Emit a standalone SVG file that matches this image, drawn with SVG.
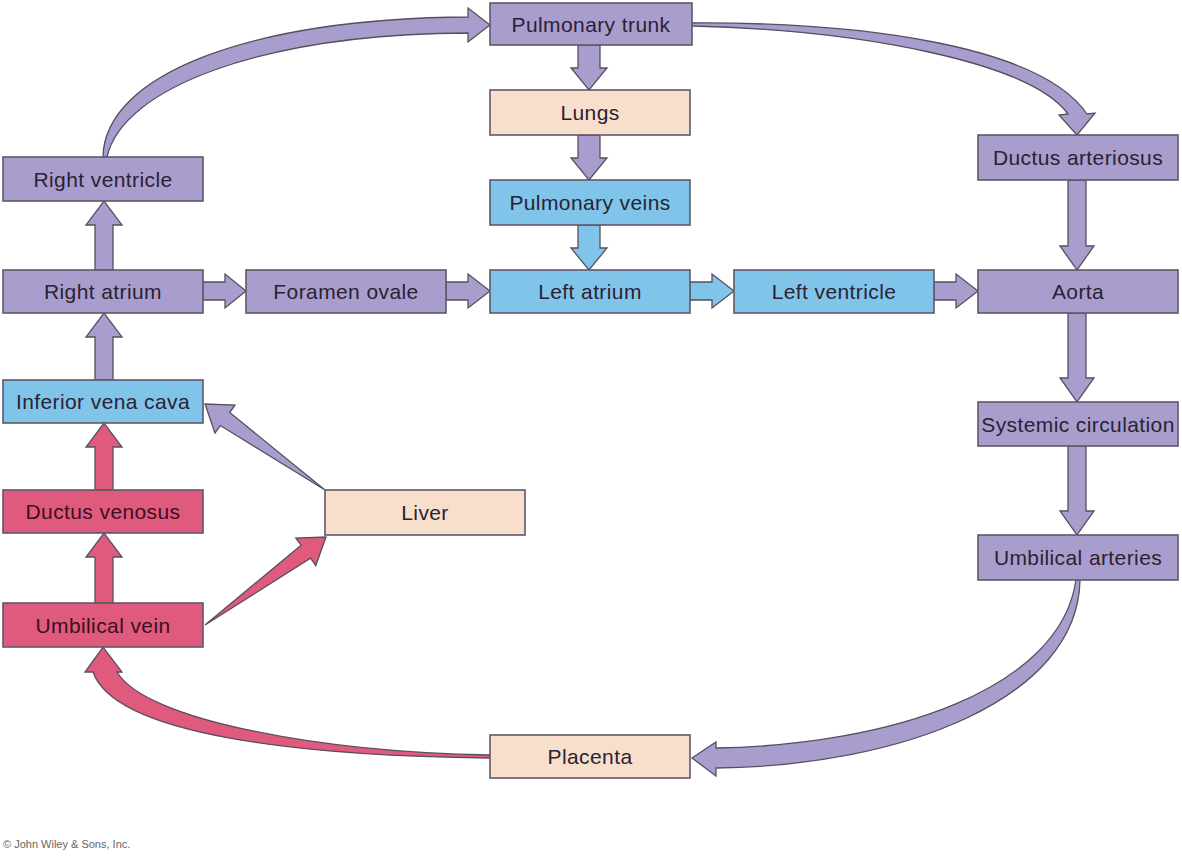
<svg xmlns="http://www.w3.org/2000/svg" width="1182" height="856" viewBox="0 0 1182 856">
<style>
.box{stroke:#5e5868;stroke-width:1.6}
.pu{fill:#a99dce}
.bl{fill:#80c4ea}
.pk{fill:#e05a7d}
.pe{fill:#f8dfcc}
.lbl{font-family:"Liberation Sans",Arial,sans-serif;font-size:21px;letter-spacing:0.4px;fill:#2a2233;text-anchor:middle;dominant-baseline:central}
.pkt{fill:#3a1020}
.ar{stroke:#55505f;stroke-width:1.3;stroke-linejoin:miter}
.apu{fill:#a99dce}
.abl{fill:#80c4ea}
.apk{fill:#e05a7d}
.copy{font-family:"Liberation Sans",Arial,sans-serif;font-size:11px;fill:#666}
</style>
<rect width="1182" height="856" fill="#ffffff"/>
<g id="connectors">
<!-- vertical down arrows centre column -->
<polygon class="ar apu" points="578,45 600,45 600,68 607,68 589,90 571,68 578,68"/>
<polygon class="ar apu" points="578,135 600,135 600,158 607,158 589,180 571,158 578,158"/>
<polygon class="ar abl" points="578,225 600,225 600,248 607,248 589,270 571,248 578,248"/>
<!-- right column down arrows -->
<polygon class="ar apu" points="1068,180 1086,180 1086,246 1094,246 1077,270 1060,246 1068,246"/>
<polygon class="ar apu" points="1068,313 1086,313 1086,378 1094,378 1077,402 1060,378 1068,378"/>
<polygon class="ar apu" points="1068,446 1086,446 1086,511 1094,511 1077,535 1060,511 1068,511"/>
<!-- left column up arrows -->
<polygon class="ar apu" points="95,270 113,270 113,225 122,225 104,201 86,225 95,225"/>
<polygon class="ar apu" points="95,380 113,380 113,337 122,337 104,313 86,337 95,337"/>
<polygon class="ar apk" points="95,490 113,490 113,447 122,447 104,423 86,447 95,447"/>
<polygon class="ar apk" points="95,603 113,603 113,557 122,557 104,533 86,557 95,557"/>
<!-- horizontal arrows -->
<polygon class="ar apu" points="203,282 225,282 225,274 246,291 225,308 225,300 203,300"/>
<polygon class="ar apu" points="446,282 468,282 468,274 490,291 468,308 468,300 446,300"/>
<polygon class="ar abl" points="690,282 712,282 712,274 734,291 712,308 712,300 690,300"/>
<polygon class="ar apu" points="934,282 956,282 956,274 978,291 956,308 956,300 934,300"/>
<!-- diagonals -->
<path class="ar apu" d="M325,490 L229.7,412.5 L235,405 L205,404 L215,433 L220.3,425.5 Z"/>
<path class="ar apk" d="M205,625 L301.1,545.2 L295.8,538 L326,537 L315.8,565.5 L310.5,558.2 Z"/>
<!-- curved arrows -->
<path class="ar apu" d="M103,157 C104,75 250,18 468,17 L468,8 L490,25 L468,42 L468,33 C262,34 122,88 107,157 Z"/>
<path class="ar apu" d="M692,23 C860,22 1040,45 1087,114 L1095,113 L1077,135 L1059,115 L1068,114 C1030,62 860,30 692,26 Z"/>
<path class="ar apu" d="M1080,580 C1078,700 900,766 716,768 L716,776 L692,758 L716,742 L716,748 C890,745 1060,690 1076,580 Z"/>
<path class="ar apk" d="M490,758 C300,756 115,735 93,672 L85,672 L103,647 L122,672 L117,672 C145,720 320,752 490,755 Z"/>
</g>
<g id="pulmonary-trunk"><rect class="box pu" x="490" y="3" width="202" height="42"/><text class="lbl" x="591" y="24">Pulmonary trunk</text></g>
<g id="lungs"><rect class="box pe" x="490" y="90" width="200" height="45"/><text class="lbl" x="590" y="112">Lungs</text></g>
<g id="pulmonary-veins"><rect class="box bl" x="490" y="180" width="200" height="45"/><text class="lbl" x="590" y="202">Pulmonary veins</text></g>
<g id="left-atrium"><rect class="box bl" x="490" y="270" width="200" height="43"/><text class="lbl" x="590" y="291">Left atrium</text></g>
<g id="left-ventricle"><rect class="box bl" x="734" y="270" width="200" height="43"/><text class="lbl" x="834" y="291">Left ventricle</text></g>
<g id="aorta"><rect class="box pu" x="978" y="270" width="200" height="43"/><text class="lbl" x="1078" y="291">Aorta</text></g>
<g id="foramen-ovale"><rect class="box pu" x="246" y="270" width="200" height="43"/><text class="lbl" x="346" y="291">Foramen ovale</text></g>
<g id="right-atrium"><rect class="box pu" x="3" y="270" width="200" height="43"/><text class="lbl" x="103" y="291">Right atrium</text></g>
<g id="right-ventricle"><rect class="box pu" x="3" y="157" width="200" height="44"/><text class="lbl" x="103" y="179">Right ventricle</text></g>
<g id="ductus-arteriosus"><rect class="box pu" x="978" y="135" width="200" height="45"/><text class="lbl" x="1078" y="157">Ductus arteriosus</text></g>
<g id="systemic-circulation"><rect class="box pu" x="978" y="402" width="200" height="44"/><text class="lbl" x="1078" y="424">Systemic circulation</text></g>
<g id="umbilical-arteries"><rect class="box pu" x="978" y="535" width="200" height="45"/><text class="lbl" x="1078" y="557">Umbilical arteries</text></g>
<g id="inferior-vena-cava"><rect class="box bl" x="3" y="380" width="200" height="43"/><text class="lbl" x="103" y="401">Inferior vena cava</text></g>
<g id="ductus-venosus"><rect class="box pk" x="3" y="490" width="200" height="43"/><text class="lbl pkt" x="103" y="511">Ductus venosus</text></g>
<g id="umbilical-vein"><rect class="box pk" x="3" y="603" width="200" height="44"/><text class="lbl pkt" x="103" y="625">Umbilical vein</text></g>
<g id="liver"><rect class="box pe" x="325" y="490" width="200" height="45"/><text class="lbl" x="425" y="512">Liver</text></g>
<g id="placenta"><rect class="box pe" x="490" y="735" width="200" height="43"/><text class="lbl" x="590" y="756">Placenta</text></g>
<text class="copy" x="3" y="848">© John Wiley &amp; Sons, Inc.</text>
</svg>
